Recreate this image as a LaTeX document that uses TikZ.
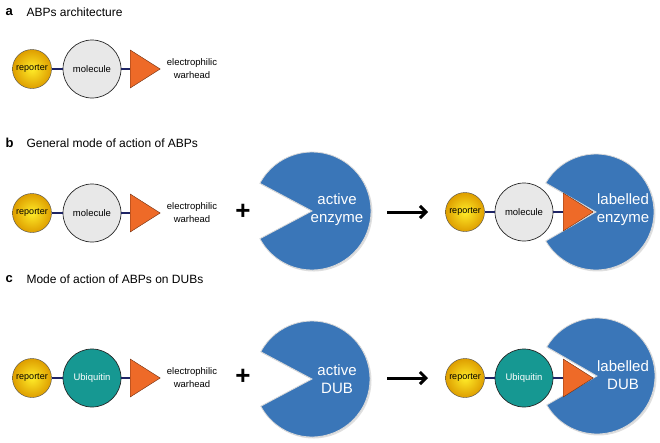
\documentclass[tikz,border=0pt]{standalone}
\usepackage{fontspec}
\setmainfont{Liberation Sans}
\definecolor{repin}{RGB}{255,236,40}
\definecolor{repout}{RGB}{222,158,0}
\definecolor{molgrey}{RGB}{232,232,232}
\definecolor{ubqteal}{RGB}{22,152,146}
\definecolor{whorange}{RGB}{238,106,40}
\definecolor{whline}{RGB}{110,45,15}
\definecolor{linknavy}{RGB}{30,36,100}
\definecolor{enzblue}{RGB}{58,118,184}
\usetikzlibrary{shapes.geometric,arrows.meta,shadows}

\begin{document}
\begin{tikzpicture}[x=1pt, y=-1pt,
    reporter/.style={circle, draw=black!70, shading=radial, inner color=repin,
                     outer color=repout, minimum size=39pt, inner sep=0pt,
                     font=\fontsize{9}{10}\selectfont},
    molecule/.style={circle, draw=black!85, line width=0.7pt, fill=molgrey,
                     minimum size=58pt, inner sep=0pt, font=\fontsize{9.5}{11}\selectfont},
    ubq/.style={molecule, fill=ubqteal, text=white},
    warhead/.style={isosceles triangle, isosceles triangle stretches, draw=whline,
                    fill=whorange, minimum width=38pt, minimum height=30pt,
                    inner sep=0pt, anchor=lower side},
    link/.style={draw=linknavy, line width=1.6pt},
    smalltext/.style={align=center, font=\fontsize{9.5}{13}\selectfont},
    letter/.style={anchor=west, font=\fontsize{13}{14}\selectfont\bfseries},
    title/.style={anchor=west, font=\fontsize{12}{14}\selectfont},
    enzyme/.style={fill=enzblue, draw=white!85!black, line width=0.8pt,
                   drop shadow={opacity=0.25, shadow xshift=1.5pt, shadow yshift=-1.5pt}},
    enztext/.style={text=white, align=center, font=\fontsize{15}{18}\selectfont},
    plus/.style={font=\fontsize{26}{26}\selectfont\bfseries},
    arrow/.style={-{Straight Barb[length=6pt,width=12pt]}, line width=3pt}]

\useasboundingbox (0,0) rectangle (660,442);

% a
\node[letter] (ta) at (2,12) {a};
\node[title] (tta) at (23,12) {ABPs architecture};
\node[reporter] (ra) at (32,69) {reporter};
\node[molecule] (ma) at (92,69) {molecule};
\node[warhead] (wa) at (130,69) {};
\node[smalltext] (ea) at (192,69) {electrophilic\\warhead};
\draw[link] (ra) -- (ma);
\draw[link] (ma) -- (wa);

% b
\node[letter] (tb) at (2,143) {b};
\node[title] (ttb) at (23,143) {General mode of action of ABPs};
\node[reporter] (rb) at (32,213) {reporter};
\node[molecule] (mb) at (92,213) {molecule};
\node[warhead] (wb) at (130,213) {};
\node[smalltext] (eb) at (192,213) {electrophilic\\warhead};
\draw[link] (rb) -- (mb);
\draw[link] (mb) -- (wb);
\node[plus] (pb) at (243,212) {+};
\coordinate (eb1) at (312,211);
\fill[enzyme] (eb1) -- ++(152:59pt) arc[start angle=152, end angle=-152, radius=59pt] -- cycle;
\node[enztext] (ab) at (337,210) {active\\enzyme};
\coordinate (sb) at (387,212);
\coordinate (fb) at (428,212);
\draw[arrow] (sb) -- (fb);
\coordinate (eb2) at (596,212);
\fill[enzyme] (eb2) -- ++(150:58pt) arc[start angle=150, end angle=-150, radius=58pt] -- cycle;
\node[enztext] (lb) at (623,210) {labelled\\enzyme};
\node[reporter] (rb2) at (465,212) {reporter};
\node[molecule] (mb2) at (524,212) {molecule};
\node[warhead] (wb2) at (563,212) {};
\draw[link] (rb2) -- (mb2);
\draw[link] (mb2) -- (wb2);

% c
\node[letter] (tc) at (2,279) {c};
\node[title] (ttc) at (23,279) {Mode of action of ABPs on DUBs};
\node[reporter] (rc) at (32,378) {reporter};
\node[ubq] (mc) at (92,378) {Ubiquitin};
\node[warhead] (wc) at (130,378) {};
\node[smalltext] (ec) at (192,378) {electrophilic\\warhead};
\draw[link] (rc) -- (mc);
\draw[link] (mc) -- (wc);
\node[plus] (pc) at (243,377) {+};
\coordinate (ec1) at (312,379);
\fill[enzyme] (ec1) -- ++(152:58pt) arc[start angle=152, end angle=-152, radius=58pt] -- cycle;
\node[enztext] (ac) at (337,379) {active\\DUB};
\coordinate (sc) at (387,378);
\coordinate (fc) at (428,378);
\draw[arrow] (sc) -- (fc);
\coordinate (ec2) at (597,376);
\fill[enzyme] (ec2) -- ++(150:58pt) arc[start angle=150, end angle=-150, radius=58pt] -- cycle;
\node[enztext] (lc) at (623,375) {labelled\\DUB};
\node[reporter] (rc2) at (465,378) {reporter};
\node[ubq] (mc2) at (524,378) {Ubiquitin};
\node[warhead] (wc2) at (563,378) {};
\draw[link] (rc2) -- (mc2);
\draw[link] (mc2) -- (wc2);
\end{tikzpicture}
\end{document}
